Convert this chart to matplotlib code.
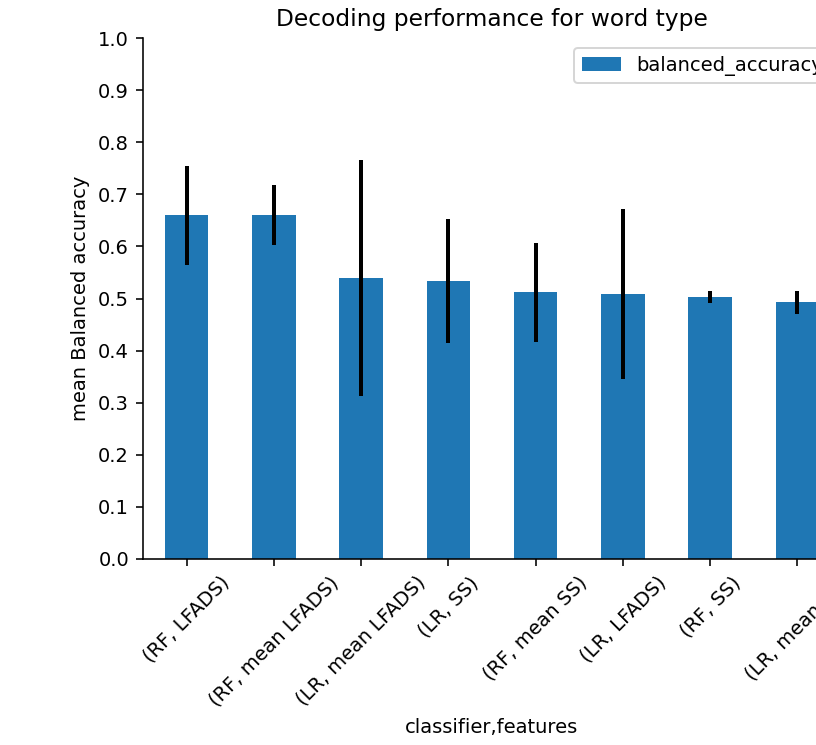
import matplotlib
matplotlib.use("Agg")
import matplotlib.pyplot as plt
import numpy as np

labels = ["(RF, LFADS)", "(RF, mean LFADS)", "(LR, mean LFADS)", "(LR, SS)",
          "(RF, mean SS)", "(LR, LFADS)", "(RF, SS)", "(LR, mean SS)"]
values = [0.660, 0.660, 0.539, 0.534, 0.512, 0.509, 0.503, 0.493]
errors = [0.095, 0.058, 0.226, 0.119, 0.095, 0.163, 0.011, 0.022]

plt.rcParams["font.size"] = 9.75

dpi = 144
fig = plt.figure(figsize=(816 / dpi, 745 / dpi), dpi=dpi)
W, H = 816, 745
ax = fig.add_axes([143 / W, (H - 559) / H, 698 / W, 521 / H])

x = np.arange(len(labels))
ax.bar(x, values, width=0.5, color="#1f77b4", yerr=errors, ecolor="black",
       error_kw=dict(elinewidth=2.0), label="balanced_accuracy")
ax.set_xlim(-0.5, len(labels) - 0.5)
ax.set_ylim(0, 1.0)
ax.set_yticks(np.arange(0, 1.01, 0.1))
ax.set_xticks(x)
ax.set_xticklabels(labels, rotation=45, ha="center")
ax.set_xlabel("classifier,features")
ax.set_ylabel("mean Balanced accuracy")
ax.set_title("Decoding performance for word type")
ax.spines["top"].set_visible(False)
ax.spines["right"].set_visible(False)
ax.legend(loc="upper right")

fig.savefig("out.png", dpi=dpi)
